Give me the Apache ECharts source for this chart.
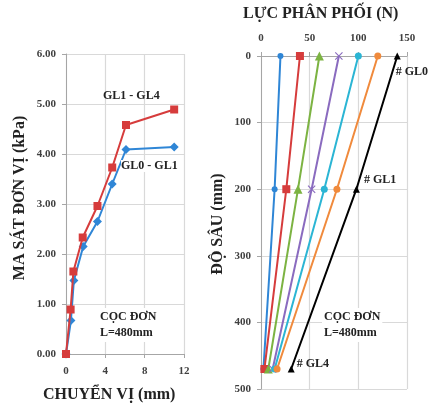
<!DOCTYPE html>
<html><head><meta charset="utf-8">
<script src="https://cdn.jsdelivr.net/npm/echarts@6/dist/echarts.min.js"></script>
<style>html,body{margin:0;padding:0;background:#fff}#c{width:435px;height:403px}</style>
</head><body><div id="c"></div>
<script>
// Left chart: friction vs displacement
const dispGL0_GL1 = [0, 0.5, 0.8, 1.75, 3.2, 4.7, 6.1, 11.0];
const fricGL0_GL1 = [0, 0.67, 1.47, 2.15, 2.65, 3.40, 4.09, 4.14];
const dispGL1_GL4 = [0, 0.47, 0.75, 1.7, 3.2, 4.7, 6.1, 11.0];
const fricGL1_GL4 = [0, 0.89, 1.65, 2.33, 2.96, 3.73, 4.58, 4.89];
const leftXTicks = [0, 4, 8, 12];
const leftYTicks = [0, 1, 2, 3, 4, 5, 6];

// Right chart: distributed force vs depth
const depths = [0, 200, 470];
const forceBlue = [20, 14, 2.5];
const forceRed = [40, 26, 3.5];
const forceGreen = [60, 38, 7.5];
const forcePurple = [80, 52, 12];
const forceCyan = [100, 65, 14];
const forceOrange = [120, 78, 16.5];
const forceBlack = [140, 98, 31];
const blackLabels = ['# GL0', '# GL1', '# GL4'];

const font = '"Liberation Serif","DejaVu Serif",serif';
const tickColor = '#404040';
const gridColor = '#d9d9d9';
const axisColor = '#a6a6a6';

function pairs(xs, ys) { return xs.map((x, i) => [x, ys[i]]); }

const crossPath = 'path://M0,1 L1,0 L5,4 L9,0 L10,1 L6,5 L10,9 L9,10 L5,6 L1,10 L0,9 L4,5 Z';

function forceSeries(name, vals, color, symbol, size, extra) {
  return Object.assign({
    name, type: 'line', xAxisIndex: 1, yAxisIndex: 1,
    data: depths.map((d, i) => [vals[i], d]),
    symbol, symbolSize: size,
    lineStyle: { color, width: 2 }, itemStyle: { color },
    animation: false, z: 3
  }, extra || {});
}

const chart = echarts.init(document.getElementById('c'));
chart.setOption({
  backgroundColor: '#fff',
  animation: false,
  grid: [
    { left: 66, top: 54, width: 118, height: 300 },
    { left: 261, top: 56, width: 146, height: 333 }
  ],
  xAxis: [
    {
      gridIndex: 0, type: 'value', min: leftXTicks[0], max: leftXTicks[leftXTicks.length - 1], interval: 4,
      axisLine: { show: true, lineStyle: { color: axisColor } },
      axisTick: { show: true, length: 4, lineStyle: { color: axisColor } },
      splitLine: { show: true, lineStyle: { color: gridColor, width: 1.2 } },
      axisLabel: { margin: 12, color: tickColor, fontFamily: font, fontWeight: 'bold', fontSize: 11 }
    },
    {
      gridIndex: 1, type: 'value', position: 'top', min: 0, max: 150, interval: 50,
      axisLine: { show: true, lineStyle: { color: axisColor } },
      axisTick: { show: true, length: 4, lineStyle: { color: axisColor } },
      splitLine: { show: true, lineStyle: { color: gridColor, width: 1.2 } },
      axisLabel: { margin: 12, color: tickColor, fontFamily: font, fontWeight: 'bold', fontSize: 11 }
    }
  ],
  yAxis: [
    {
      gridIndex: 0, type: 'value', min: leftYTicks[0], max: leftYTicks[leftYTicks.length - 1], interval: 1,
      axisLine: { show: true, lineStyle: { color: axisColor } },
      axisTick: { show: true, length: 4, lineStyle: { color: axisColor } },
      splitLine: { show: true, lineStyle: { color: gridColor, width: 1.2 } },
      axisLabel: { margin: 10, color: tickColor, fontFamily: font, fontWeight: 'bold', fontSize: 11,
        formatter: v => v.toFixed(2) }
    },
    {
      gridIndex: 1, type: 'value', inverse: true, min: 0, max: 500, interval: 100,
      axisLine: { show: true, lineStyle: { color: axisColor } },
      axisTick: { show: true, length: 4, lineStyle: { color: axisColor } },
      splitLine: { show: true, lineStyle: { color: gridColor, width: 1.2 } },
      axisLabel: { margin: 10, color: tickColor, fontFamily: font, fontWeight: 'bold', fontSize: 11 }
    }
  ],
  series: [
    {
      name: 'GL0 - GL1', type: 'line', xAxisIndex: 0, yAxisIndex: 0,
      data: pairs(dispGL0_GL1, fricGL0_GL1), symbol: 'diamond', symbolSize: 9,
      lineStyle: { color: '#2f86d6', width: 2 }, itemStyle: { color: '#2f86d6' }, z: 3
    },
    {
      name: 'GL1 - GL4', type: 'line', xAxisIndex: 0, yAxisIndex: 0,
      data: pairs(dispGL1_GL4, fricGL1_GL4), symbol: 'rect', symbolSize: 8,
      lineStyle: { color: '#d63c3c', width: 2 }, itemStyle: { color: '#d63c3c' }, z: 4
    },
    forceSeries('s1', forceBlue, '#2f86d6', 'circle', 6),
    forceSeries('s2', forceRed, '#d63c3c', 'rect', 8),
    forceSeries('s3', forceGreen, '#7cb342', 'triangle', 9),
    forceSeries('s4', forcePurple, '#8a6bbf', crossPath, 8),
    forceSeries('s5', forceCyan, '#2bb5d4', 'circle', 7),
    forceSeries('s6', forceOrange, '#f08a3c', 'circle', 7),
    forceSeries('s7', forceBlack, '#000000', 'triangle', 7, {
      label: {
        show: true, formatter: p => blackLabels[p.dataIndex], position: 'right',
        fontFamily: font, fontWeight: 'bold', fontSize: 12, color: '#222'
      },
      data: depths.map((d, i) => {
        const pos = [[-10, 16], [-1, -9], [-3, -5]][i];
        return { value: [forceBlack[i], d], label: { offset: pos } };
      })
    })
  ],
  graphic: [
    { type: 'text', left: 43, top: 387, style: { text: 'CHUYỂN VỊ (mm)', font: 'bold 16px ' + font, fill: '#222' } },
    { type: 'text', left: 243, top: 6, style: { text: 'LỰC PHÂN PHỐI (N)', font: 'bold 16px ' + font, fill: '#222' } },
    { type: 'text', x: 20, y: 198, rotation: Math.PI / 2, style: { text: 'MA SÁT ĐƠN VỊ (kPa)', font: 'bold 16px ' + font, fill: '#222', align: 'center', verticalAlign: 'middle' } },
    { type: 'text', x: 218, y: 224, rotation: Math.PI / 2, style: { text: 'ĐỘ SÂU (mm)', font: 'bold 16px ' + font, fill: '#222', align: 'center', verticalAlign: 'middle' } },
    { type: 'text', left: 103, top: 90, z: 10, style: { text: 'GL1 - GL4', font: 'bold 12px ' + font, fill: '#222' } },
    { type: 'text', left: 121, top: 160, z: 10, style: { text: 'GL0 - GL1', font: 'bold 12px ' + font, fill: '#222', backgroundColor: '#fff' } },
    { type: 'text', left: 98, top: 308, z: 10, style: { text: 'CỌC ĐƠN\nL=480mm', font: 'bold 12px ' + font, fill: '#222', lineHeight: 16, backgroundColor: '#fff', padding: [1, 2] } },
    { type: 'text', left: 322, top: 308, z: 10, style: { text: 'CỌC ĐƠN\nL=480mm', font: 'bold 12px ' + font, fill: '#222', lineHeight: 16, backgroundColor: '#fff', padding: [1, 2] } }
  ]
});
</script></body></html>
